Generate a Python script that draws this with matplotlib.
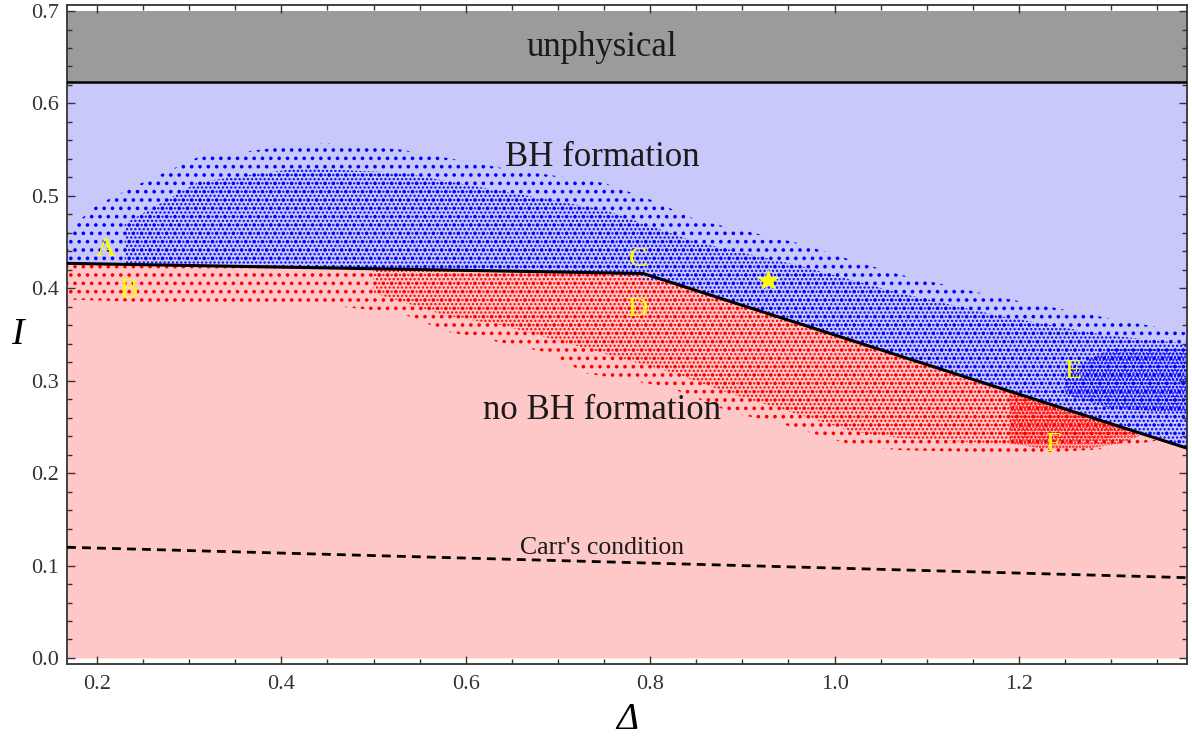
import numpy as np
import matplotlib
matplotlib.use("Agg")
import matplotlib.pyplot as plt

# ---------------- data ----------------
x_range = [0.1675, 1.3822]
# BH formation threshold (black piecewise line)
thr_x = [0.1675, 0.7925, 1.3822]
thr_y = [0.427, 0.416, 0.227]
unphysical_level = 0.623
# Carr's condition (dashed)
carr_x = [0.1675, 1.3822]
carr_y = [0.1198, 0.0869]

# blue cloud (BH formation samples): from threshold line up to top envelope
blue_x = [0.1675, 0.20, 0.24, 0.31, 0.42, 0.45, 0.53, 0.64, 0.75, 0.80, 0.85,
          0.96, 1.02, 1.07, 1.18, 1.29, 1.3822]
blue_top = [0.462, 0.49, 0.51, 0.542, 0.555, 0.557, 0.55, 0.53, 0.514, 0.496,
            0.474, 0.449, 0.43, 0.415, 0.39, 0.369, 0.352]
blue_core_x = [0.23, 0.31, 0.42, 0.53, 0.64, 0.75, 0.85, 0.96, 1.07, 1.18, 1.29, 1.3822]
blue_core_top = [0.47, 0.515, 0.53, 0.525, 0.505, 0.485, 0.45, 0.425, 0.395, 0.37, 0.35, 0.34]
blue_dense_x = [1.25, 1.30, 1.3822]
blue_dense_top = [0.31, 0.335, 0.335]
blue_dense_bot = [0.285, 0.27, 0.265]

# red cloud (no BH formation samples): from bottom envelope up to threshold line
red_x = [0.1675, 0.31, 0.42, 0.53, 0.58, 0.64, 0.69, 0.73, 0.78, 0.82, 0.89,
         0.94, 1.02, 1.07, 1.18, 1.23, 1.29, 1.33, 1.355]
red_bot = [0.388, 0.383, 0.385, 0.373, 0.353, 0.341, 0.33, 0.308, 0.30, 0.293,
           0.265, 0.254, 0.23, 0.225, 0.222, 0.222, 0.226, 0.232, 0.236]
red_core_x = [0.50, 0.58, 0.64, 0.73, 0.82, 0.89, 0.94, 1.02, 1.07, 1.18, 1.23, 1.29, 1.33]
red_core_bot = [0.395, 0.37, 0.36, 0.335, 0.31, 0.285, 0.27, 0.245, 0.238, 0.232, 0.232, 0.236, 0.245]
red_dense_x = [1.19, 1.23, 1.27, 1.31, 1.33]
red_dense_bot = [0.232, 0.226, 0.226, 0.232, 0.240]

# labelled points
pt_labels = ["A", "B", "C", "D", "E", "F"]
pt_x = [0.209, 0.234, 0.787, 0.786, 1.258, 1.237]
pt_y = [0.442, 0.398, 0.431, 0.377, 0.31, 0.2305]
star_x, star_y = 0.928, 0.409

region_labels = ["unphysical", "BH formation", "no BH formation"]
region_x = [0.748, 0.748, 0.748]
region_y = [0.661, 0.541, 0.268]

xticks = [0.2, 0.4, 0.6, 0.8, 1.0, 1.2]
yticks = [0.0, 0.1, 0.2, 0.3, 0.4, 0.5, 0.6, 0.7]

# ---------------- drawing ----------------
plt.rcParams["font.family"] = ["Liberation Serif", "DejaVu Serif"]

fig = plt.figure(figsize=(11.92, 7.38), dpi=100)
ax = fig.add_axes([0.0562, 0.1003, 0.9396, 0.8929])

xs = np.array(x_range)
ax.fill_between(xs, unphysical_level, 0.7, color="#9b9b9b", lw=0, zorder=0)
ax.fill_between(thr_x, thr_y, unphysical_level, color="#c8c8fa", lw=0, zorder=0)
ax.fill_between(thr_x, 0.0, thr_y, color="#fec8c8", lw=0, zorder=0)

def line_at(x):
    return np.interp(x, thr_x, thr_y)

def dots(x, lo, hi, color, hatch, lw):
    plt.rcParams["hatch.linewidth"] = lw
    ax.fill_between(x, lo, hi, facecolor="none", edgecolor=color, hatch=hatch,
                    lw=0, zorder=1)

# blue samples
dots(blue_x, line_at(blue_x), blue_top, "#0000ff", "..", 1.4)
dots(blue_core_x, line_at(blue_core_x), blue_core_top, "#0000ff", "....", 1.1)
dots(blue_dense_x, blue_dense_bot, blue_dense_top, "#0000ff", ".....", 1.0)
# red samples
dots(red_x, red_bot, line_at(red_x), "#ff0000", "..", 1.4)
dots(red_core_x, red_core_bot, line_at(red_core_x), "#ff0000", "....", 1.1)
dots(red_dense_x, red_dense_bot, line_at(red_dense_x), "#ff0000", ".....", 1.3)

# boundaries
ax.plot(xs, [unphysical_level] * 2, color="black", lw=1.8, zorder=3)
ax.plot(thr_x, thr_y, color="black", lw=2.2, zorder=3)
ax.plot(carr_x, carr_y, color="black", lw=2.0, ls=(0, (3.2, 2.2)), zorder=3)

ax.text(0.748, 0.1195, "Carr's condition", fontsize=18.5, ha="center",
        va="center", color="#1a1a1a", zorder=4)
for t, x, y in zip(region_labels, region_x, region_y):
    ax.text(x, y, t, fontsize=25, ha="center", va="center", color="#1a1a1a", zorder=4)
for t, x, y in zip(pt_labels, pt_x, pt_y):
    ax.text(x, y, t, fontsize=20, ha="center", va="center", color="#ffff00", zorder=5)
ax.plot([star_x], [star_y], marker="*", color="#ffff00", ms=15, mec="#ffff00", zorder=5)

ax.set_xlim(*x_range)
ax.set_ylim(-0.0065, 0.7065)
ax.set_xticks(xticks)
ax.set_xticklabels([f"{v:.1f}" for v in xticks])
ax.set_yticks(yticks)
ax.set_yticklabels([f"{v:.1f}" for v in yticks])
ax.set_xticks(np.arange(0.2, 1.40, 0.05), minor=True)
ax.set_yticks(np.arange(0.0, 0.701, 0.02), minor=True)
ax.tick_params(which="both", direction="in", top=True, right=True,
               color="#333333", width=1.0, labelsize=16, labelcolor="#333333")
ax.tick_params(which="major", length=6)
ax.tick_params(which="minor", length=3.5)
ax.tick_params(axis="x", pad=8)
ax.tick_params(axis="y", pad=6)
for s in ax.spines.values():
    s.set_color("#333333")
    s.set_linewidth(1.3)

ax.set_xlabel("Δ", fontsize=27, fontstyle="italic", labelpad=6)
ax.set_ylabel("I", fontsize=27, fontstyle="italic", rotation=0, labelpad=10, va="center")

fig.savefig("out.png", dpi=100)
